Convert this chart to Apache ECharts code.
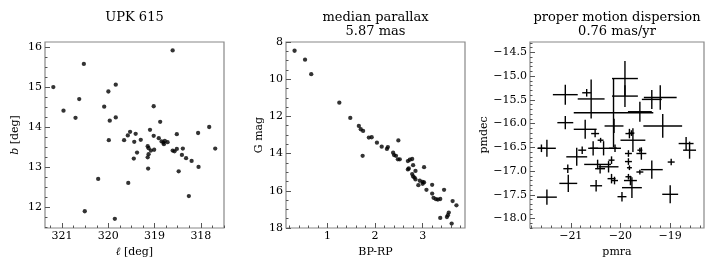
<!DOCTYPE html>
<html><head><meta charset="utf-8">
<script src="https://cdn.jsdelivr.net/npm/echarts@6/dist/echarts.min.js"></script>
<style>html,body{margin:0;padding:0;background:#fff}#c{width:720px;height:270px}</style>
</head><body><div id="c"></div>
<script>
// ---- Panel 1: sky positions ----
const lVals = [321.19,320.97,320.71,320.63,320.53,320.09,320.0,319.97,319.84,319.84,
  319.53,319.41,319.10,319.02,318.88,318.61,318.52,318.06,317.82,
  319.99,319.66,319.58,319.44,319.30,319.38,319.45,319.15,319.13,319.15,
  319.13,319.08,319.01,319.14,319.02,318.91,318.85,318.81,318.80,318.78,
  318.72,318.61,318.57,318.52,318.39,318.41,318.32,318.20,318.05,318.48,
  319.57,320.22,318.26,320.51,319.86,317.69];
const bVals = [15.0,14.41,14.23,14.7,15.58,14.51,14.89,14.16,15.06,14.24,
  13.88,13.83,13.93,14.52,14.13,15.92,13.82,13.85,14.0,
  13.67,13.67,13.79,13.63,13.68,13.36,13.21,13.52,13.47,13.24,
  13.32,13.41,13.43,12.96,13.78,13.72,13.64,13.61,13.57,13.65,
  13.62,13.41,13.39,13.45,13.46,13.30,13.22,13.15,13.0,12.89,
  12.60,12.70,12.27,11.89,11.70,13.46];
// ---- Panel 2: CMD ----
const bprp = [0.31,0.53,0.66,1.25,1.48,1.66,1.70,1.75,
  1.87,1.93,2.04,2.14,2.25,2.27,2.49,1.74,2.38,2.40,
  2.44,2.48,2.52,2.69,2.73,2.78,2.80,2.69,2.71,2.85,
  3.03,2.78,2.80,2.83,2.85,2.94,3.00,3.03,2.91,3.00,
  3.08,3.20,3.20,3.23,3.28,3.32,3.37,3.45,3.37,3.51,
  3.53,3.55,3.63,3.71,3.61];
const gmag = [8.47,8.95,9.73,11.26,12.08,12.51,12.69,12.78,
  13.14,13.12,13.41,13.63,13.75,13.65,13.29,14.12,13.95,14.08,
  14.12,14.31,14.31,14.40,14.33,14.29,14.62,14.85,14.80,14.93,
  14.73,15.10,15.23,15.29,15.39,15.46,15.52,15.55,15.70,15.62,
  15.95,15.68,16.15,16.38,16.45,16.47,16.44,15.95,17.46,17.41,
  17.31,17.17,16.55,16.78,17.76];
// ---- Panel 3: proper motions with errors ----
const pmra = [-21.11,-20.68,-20.59,-20.14,-20.13,-19.91,-19.91,-19.61,-19.37,-19.20,
  -19.15,-21.11,-20.71,-20.51,-19.82,-19.78,-21.48,-21.59,-21.48,-21.05,
  -21.06,-20.88,-20.77,-20.55,-20.46,-20.41,-20.34,-20.24,-20.18,-20.11,
  -20.40,-20.18,-20.12,-20.49,-19.84,-19.84,-19.82,-19.84,-19.80,-19.75,
  -19.77,-19.97,-19.61,-19.58,-19.61,-19.37,-19.00,-18.98,-18.68,-18.61];
const pmdec = [-15.39,-15.35,-15.48,-15.77,-16.05,-15.05,-15.42,-15.75,-15.49,-15.45,
  -16.05,-15.98,-16.12,-16.21,-16.21,-16.20,-16.52,-16.52,-17.55,-17.26,
  -16.95,-16.70,-16.56,-16.52,-16.86,-16.95,-16.52,-16.91,-16.77,-16.52,
  -16.35,-17.16,-17.20,-17.31,-16.63,-16.80,-16.93,-17.12,-17.20,-16.35,
  -17.35,-17.54,-16.56,-16.63,-17.02,-16.97,-17.49,-16.81,-16.42,-16.56];
const pmraErr = [0.25,0.09,0.27,0.80,0.19,0.26,0.26,0.24,0.20,0.33,
  0.39,0.16,0.23,0.08,0.08,0.06,0.18,0.08,0.20,0.18,
  0.09,0.21,0.08,0.10,0.27,0.10,0.27,0.20,0.06,0.12,
  0.06,0.08,0.07,0.12,0.07,0.07,0.05,0.06,0.13,0.25,
  0.20,0.09,0.05,0.10,0.07,0.22,0.16,0.07,0.15,0.13];
const pmdecErr = [0.21,0.08,0.41,0.73,0.15,0.37,0.23,0.21,0.20,0.26,
  0.25,0.14,0.20,0.08,0.10,0.06,0.18,0.08,0.16,0.18,
  0.09,0.19,0.08,0.15,0.10,0.10,0.15,0.12,0.08,0.08,
  0.05,0.10,0.08,0.12,0.07,0.07,0.05,0.06,0.10,0.25,
  0.22,0.10,0.05,0.13,0.05,0.19,0.19,0.07,0.14,0.18];
// ---- tick labels ----
const lTicks = [318,319,320,321];
const bTicks = [12,13,14,15,16];
const cTicks = [1,2,3];
const gTicks = [8,10,12,14,16,18];
const raTicks = [-21,-20,-19];
const decTicks = [-18.0,-17.5,-17.0,-16.5,-16.0,-15.5,-15.0,-14.5];
const titles = [["UPK 615"],["median parallax","5.87 mas"],["proper motion dispersion","0.76 mas/yr"]];

const FONT = 'DejaVu Serif';
const grids = [
  {left:45, right:496, top:42, bottom:42},
  {left:286, right:255, top:42, bottom:42},
  {left:530, right:16, top:42, bottom:42}
];
const minus = s => String(s).replace('-', '\u2212');
function minorList(min, max, step){
  const out=[]; const s=Math.ceil(min/step-1e-9);
  for(let k=s; k*step<=max+1e-9; k++) out.push(+(k*step).toFixed(6));
  return out;
}
const xAxes=[], yAxes=[];
function addAxes(g, xr, yr, xTicks, yTicks, xMinor, yMinor, xInv, yInv, xFmt, yFmt, xName, yName, yGap){
  const base = {type:'value', splitLine:{show:false}, axisLine:{show:false}};
  xAxes.push(Object.assign({}, base, {gridIndex:g, min:xr[0], max:xr[1], inverse:xInv, position:'bottom',
    axisTick:{show:true, inside:true, length:5, customValues:xTicks, lineStyle:{color:'#555', width:1}},
    axisLabel:{customValues:xTicks, formatter:xFmt, color:'#000', fontFamily:FONT, fontSize:11, margin:3},
    name:xName, nameLocation:'middle', nameGap:16,
    nameTextStyle:{color:'#000', fontFamily:FONT, fontSize:11, rich:{i:{fontStyle:'italic', fontFamily:FONT, fontSize:11}}}}));
  yAxes.push(Object.assign({}, base, {gridIndex:g, min:yr[0], max:yr[1], inverse:yInv, position:'left',
    axisTick:{show:true, inside:true, length:5, customValues:yTicks, lineStyle:{color:'#555', width:1}},
    axisLabel:{customValues:yTicks, formatter:yFmt, color:'#000', fontFamily:FONT, fontSize:11, margin:3},
    name:yName, nameLocation:'middle', nameGap:yGap, nameRotate:90,
    nameTextStyle:{color:'#000', fontFamily:FONT, fontSize:11, rich:{i:{fontStyle:'italic', fontFamily:FONT, fontSize:11}}}}));
  return [xMinor, yMinor, xr, yr, xInv, yInv, g];
}
const minorSpecs = [];
minorSpecs.push(addAxes(0, [317.5,321.37], [11.47,16.13], lTicks, bTicks, 0.25, 0.25, true, false,
  v=>String(Math.round(v)), v=>String(Math.round(v)), '{i|\u2113} [deg]', '{i|b} [deg]', 24));
minorSpecs.push(addAxes(1, [0.13,3.89], [8,18], cTicks, gTicks, 0.2, 0.5, false, true,
  v=>String(Math.round(v)), v=>String(Math.round(v)), 'BP-RP', 'G mag', 20));
minorSpecs.push(addAxes(2, [-21.82,-18.32], [-18.2,-14.28], raTicks, decTicks, 0.2, 0.1, false, false,
  v=>minus(Math.round(v)), v=>minus(Number(v).toFixed(1)), 'pmra', 'pmdec', 40));
const allGrids = grids.map(g=>Object.assign({show:true, borderColor:'#888', borderWidth:1.2, backgroundColor:'transparent'}, g));
minorSpecs.forEach(([xm, ym, xr, yr, xInv, yInv, g])=>{
  allGrids.push(Object.assign({show:false}, grids[g]));
  const gi = allGrids.length-1;
  const base = {type:'value', splitLine:{show:false}, axisLine:{show:false}, axisLabel:{show:false}};
  xAxes.push(Object.assign({}, base, {gridIndex:gi, min:xr[0], max:xr[1], inverse:xInv, position:'bottom',
    axisTick:{show:true, inside:true, length:2.5, customValues:minorList(xr[0],xr[1],xm), lineStyle:{color:'#555', width:1}},
    axisLabel:{show:false, customValues:[]}}));
  yAxes.push(Object.assign({}, base, {gridIndex:gi, min:yr[0], max:yr[1], inverse:yInv, position:'left',
    axisTick:{show:true, inside:true, length:2.5, customValues:minorList(yr[0],yr[1],ym), lineStyle:{color:'#555', width:1}},
    axisLabel:{show:false, customValues:[]}}));
});

const graphics = [];
titles.forEach((t,i)=>{
  const g = grids[i];
  const cx = g.left + (720 - g.right - g.left)/2;
  const ys = t.length===1 ? [17.5] : [17.5, 31.5];
  t.forEach((s,j)=>graphics.push({type:'text', x:cx, y:ys[j], style:{text:s, fill:'#000',
    font:'13px "DejaVu Serif"', textAlign:'center', textVerticalAlign:'middle'}}));
});

const errData = pmra.map((v,i)=>[v, pmdec[i], pmraErr[i], pmdecErr[i]]);
const chart = echarts.init(document.getElementById('c'), null, {renderer:'canvas'});
chart.setOption({
  animation:false,
  backgroundColor:'#fff',
  grid: allGrids,
  xAxis: xAxes,
  yAxis: yAxes,
  graphic: graphics,
  series: [
    {type:'scatter', xAxisIndex:0, yAxisIndex:0, symbolSize:4.3, itemStyle:{color:'#000'},
      data: lVals.map((v,i)=>[v, bVals[i]])},
    {type:'scatter', xAxisIndex:1, yAxisIndex:1, symbolSize:4.3, itemStyle:{color:'#000'},
      data: bprp.map((v,i)=>[v, gmag[i]])},
    {type:'custom', xAxisIndex:2, yAxisIndex:2, encode:{x:0, y:1}, data: errData,
      renderItem:(params, api)=>{
        const x=api.value(0), y=api.value(1), ex=api.value(2), ey=api.value(3);
        const a=api.coord([x-ex,y]), b=api.coord([x+ex,y]), c=api.coord([x,y-ey]), d=api.coord([x,y+ey]);
        const st={stroke:'#000', lineWidth:1.4};
        return {type:'group', children:[
          {type:'line', shape:{x1:a[0],y1:a[1],x2:b[0],y2:b[1]}, style:st},
          {type:'line', shape:{x1:c[0],y1:c[1],x2:d[0],y2:d[1]}, style:st}
        ]};
      }}
  ]
});
</script></body></html>
